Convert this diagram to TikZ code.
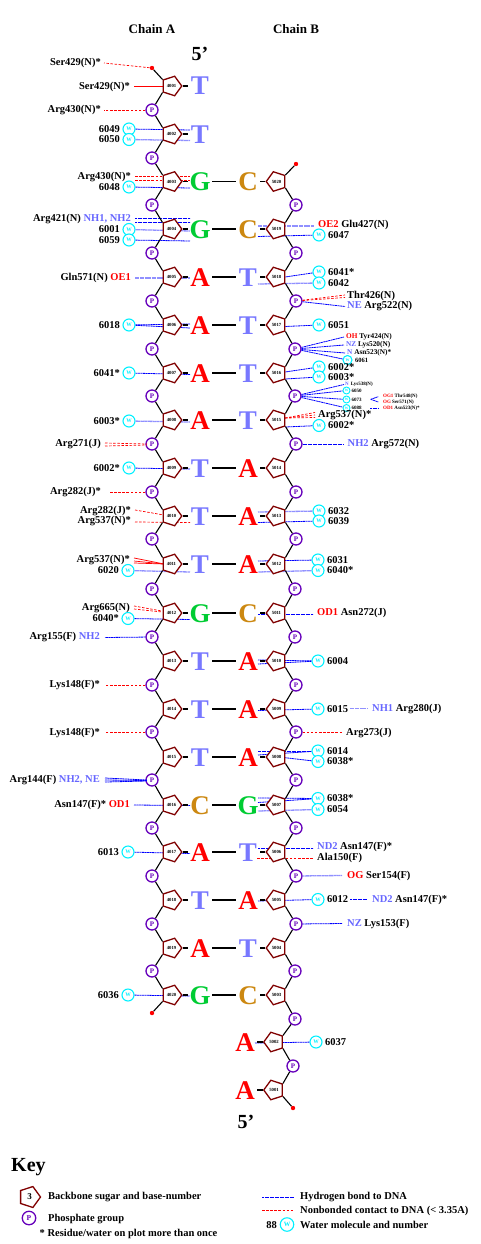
\documentclass[tikz,border=0pt]{standalone}
\usepackage{fontspec}
\setmainfont{Liberation Serif}
\usetikzlibrary{shapes.geometric}
\definecolor{sugarc}{HTML}{800000}
\definecolor{phos}{HTML}{6600BB}
\definecolor{watc}{HTML}{00F0FF}
\definecolor{atomb}{HTML}{6666FF}
\definecolor{colA}{HTML}{FF0000}
\definecolor{colT}{HTML}{7878FF}
\definecolor{colG}{HTML}{00CC33}
\definecolor{colC}{HTML}{CC8811}
\definecolor{hbc}{HTML}{0000FF}
\definecolor{hbp}{HTML}{9090FF}
\newcommand{\fsz}[1]{\fontsize{#1}{#1}\selectfont\bfseries}
\newcommand{\atb}[1]{\textcolor{atomb}{#1}}
\newcommand{\ato}[1]{\textcolor{red}{#1}}
\newcount\cnn
\newcommand{\conn}[4]{\global\advance\cnn by 1\relax
  \coordinate (c\the\cnn) at (#3,#4); \draw[#1] #2 -- (c\the\cnn);}
\newcommand{\seg}[5]{\global\advance\cnn by 1\relax
  \coordinate (c\the\cnn a) at (#2,#3); \coordinate (c\the\cnn b) at (#4,#5);
  \draw[#1] (c\the\cnn a) -- (c\the\cnn b);}
\newcommand{\wlt}[4]{\node[wat] (w#1) at (#2,#3) {W};
  \node[lbl,anchor=east] (l#1) at ([xshift=-9pt]w#1.center) {#4};}
\newcommand{\wrt}[4]{\node[wat] (w#1) at (#2,#3) {W};
  \node[lbl,anchor=west] (l#1) at ([xshift=9pt]w#1.center) {#4};}
\newcommand{\wsm}[4]{\node[swat] (w#1) at (#2,#3) {W};
  \node[slbl,anchor=west] (l#1) at ([xshift=5pt]w#1.center) {#4};}
\newcommand{\tlab}[5]{\node[#1] (l#2) at (#3,#4) {#5};}
\tikzset{
  lbl/.style={font=\fsz{10.5},inner sep=0pt},
  mlbl/.style={font=\fsz{7.3},inner sep=0pt},
  slbl/.style={font=\fsz{5},inner sep=0pt},
  E/.style={lbl,anchor=east},
  W/.style={lbl,anchor=west},
  wat/.style={circle,draw=watc,line width=1.1pt,fill=white,text=watc,minimum size=12pt,inner sep=0pt,font=\fontsize{5.5}{5.5}\selectfont\bfseries},
  swat/.style={circle,draw=watc,line width=.9pt,fill=white,text=watc,minimum size=7pt,inner sep=0pt,font=\fontsize{3.5}{3.5}\selectfont\bfseries},
  ph/.style={circle,draw=phos,line width=1.3pt,fill=white,text=phos,minimum size=12pt,inner sep=0pt,font=\fsz{7}},
  sugA/.style={regular polygon,regular polygon sides=5,shape border rotate=-90,draw=sugarc,line width=1.3pt,fill=white,minimum size=20.5pt,inner sep=0pt,font=\fsz{4.7}},
  sugB/.style={regular polygon,regular polygon sides=5,shape border rotate=90,draw=sugarc,line width=1.3pt,fill=white,minimum size=20.5pt,inner sep=0pt,font=\fsz{4.7}},
  basel/.style={inner sep=0pt,minimum width=24pt,text height=18pt,text depth=0pt,font=\fsz{27}},
  dot/.style={circle,fill=red,minimum size=4.4pt,inner sep=0pt},
  bb/.style={black,line width=1.1pt},
  hb/.style={hbc,line width=.8pt,dash pattern=on 2pt off .5pt},
  hbl/.style={hbp,line width=1.3pt,dash pattern=on 2pt off .4pt},
  nbc/.style={red,line width=.7pt,dash pattern=on 2.5pt off 1.6pt},
  nbs/.style={red,line width=.7pt},
  pair/.style={black,line width=1.6pt},
  stub/.style={black,line width=1.1pt},
}
\begin{document}
\begin{tikzpicture}[x=1pt,y=-1pt]
\useasboundingbox (0,0) rectangle (481,1244);
% titles
\node[font=\fsz{13},inner sep=0pt] (ta) at (152,29) {Chain A};
\node[font=\fsz{13},inner sep=0pt] (tb) at (296,29) {Chain B};
\node[font=\fsz{20},inner sep=0pt] (f5a) at (200,54) {5’};
\node[font=\fsz{20},inner sep=0pt] (f5b) at (246,1122) {5’};
% phosphates
\foreach \i/\y in {1/110,2/158,3/205,4/253,5/301,6/349,7/396,8/444,9/492,10/539,11/589,12/637,13/685,14/732,15/780,16/828,17/876,18/924,19/971}
  \node[ph] (p\i) at (152,\y) {P};
\foreach \i/\x/\y in {1/293/1066,2/295/1019,3/295/971,4/296/924,5/296/876,6/296/828,7/296/780,8/296/732,9/296/685,10/295/637,11/295/589,12/296/539,13/296/492,14/296/444,15/295/396,16/295/349,17/296/301,18/296/253,19/296/205}
  \node[ph] (q\i) at (\x,\y) {P};
\node[dot] (d1) at (152,68) {};
\node[dot] (d2) at (152,1013) {};
\node[dot] (d3) at (296,164) {};
\node[dot] (d4) at (293,1108) {};
% ---- chain A contacts
\tlab{E}{a1}{101}{63}{Ser429(N)*}\conn{nbc}{(d1)}{104}{63}
\tlab{E}{a2}{130}{86.5}{Ser429(N)*}\seg{nbs}{134}{86}{164}{86}
\tlab{E}{a3}{101}{110}{Arg430(N)*}\conn{nbc}{(p1)}{104}{110}
\wlt{49}{129}{129}{6049}\conn{hb}{(w49)}{190}{130}
\wlt{50}{129}{139.5}{6050}\conn{hbl}{(w50)}{190}{140.5}
\tlab{E}{a4}{131}{177}{Arg430(N)*}\seg{nbc}{135}{176}{190}{176}\seg{nbc}{135}{180}{190}{180}
\wlt{48}{129}{187}{6048}\conn{hb}{(w48)}{190}{188}
\tlab{E}{a5}{131}{219.5}{Arg421(N) \atb{NH1, NH2}}\seg{hb}{135}{218}{190}{218}\seg{hb}{135}{222}{190}{222}
\wlt{01}{129}{229.5}{6001}\conn{hbl}{(w01)}{190}{231}
\wlt{59}{129}{240}{6059}\conn{hb}{(w59)}{190}{241}
\tlab{E}{a6}{131}{277.5}{Gln571(N) \ato{OE1}}\seg{hbl}{135}{278}{190}{278}
\wlt{18}{129}{325}{6018}\conn{hb}{(w18)}{190}{324}\conn{hb}{(w18)}{190}{328}
\wlt{41}{129}{373}{6041*}\conn{hb}{(w41)}{190}{374.5}
\wlt{03}{129}{421}{6003*}\conn{hbl}{(w03)}{190}{422}
\tlab{E}{a7}{101}{444.5}{Arg271(J)}\seg{nbc}{105}{443}{147}{444}\seg{nbc}{105}{446}{147}{445}
\wlt{02}{129}{468}{6002*}\conn{hb}{(w02)}{190}{469}
\tlab{E}{a8}{101}{492}{Arg282(J)*}\conn{nbc}{(p9)}{109}{492}
\tlab{E}{a9}{131}{511}{Arg282(J)*}\seg{nbc}{135}{510}{164}{515}
\tlab{E}{a10}{131}{521}{Arg537(N)*}\seg{nbc}{135}{522}{190}{522.5}
\tlab{E}{a11}{130}{560.5}{Arg537(N)*}\seg{nbs}{134}{558}{164}{564}\seg{nbs}{134}{561}{164}{564}\seg{nbs}{134}{563}{164}{564}
\wlt{20}{128}{570.5}{6020}\conn{hbl}{(w20)}{190}{572}
\tlab{E}{a12}{130}{608}{Arg665(N)}\seg{nbc}{134}{606}{162}{611}\seg{nbc}{134}{609}{162}{612}
\wlt{40}{128}{618.5}{6040*}\conn{hb}{(w40)}{190}{619.5}
\tlab{E}{a13}{100}{637.5}{Arg155(F) \atb{NH2}}\conn{hb}{(p12)}{105}{637.5}
\tlab{E}{a14}{100}{684.5}{Lys148(F)*}\conn{nbc}{(p13)}{105}{685}
\tlab{E}{a15}{100}{733}{Lys148(F)*}\conn{nbc}{(p14)}{105}{732}
\tlab{E}{a16}{100}{780.5}{Arg144(F) \atb{NH2, NE}}\seg{hb}{105}{778}{147}{780}\seg{hb}{105}{780}{147}{780.5}\seg{hb}{105}{782}{147}{781}
\tlab{E}{a17}{130}{805}{Asn147(F)* \ato{OD1}}\seg{hb}{134}{805}{190}{805.5}
\wlt{13}{128}{852}{6013}\conn{hb}{(w13)}{190}{853.5}
\wlt{36}{128}{995}{6036}\conn{hb}{(w36)}{190}{996}
% ---- chain B contacts
\tlab{W}{b1}{318}{224.5}{\ato{OE2} Glu427(N)}\seg{hbl}{258}{226}{314}{226}
\wrt{47}{319}{235}{6047}\conn{hb}{(w47)}{258}{236.5}
\wrt{41b}{319}{272}{6041*}\conn{hb}{(w41b)}{285}{277}
\wrt{42}{319}{283}{6042}\conn{hbl}{(w42)}{258}{284}
\tlab{W}{b2}{347}{296}{Thr426(N)}\conn{nbc}{(q17)}{345}{295}\conn{nbc}{(q17)}{345}{297.5}
\tlab{W}{b3}{347}{306.5}{\atb{NE} Arg522(N)}\conn{hb}{(q17)}{345}{306.5}
\wrt{51}{319}{325}{6051}\conn{hb}{(w51)}{285}{326.5}
\tlab{mlbl,anchor=west}{b4}{346}{337}{\ato{OH} Tyr424(N)}\conn{hb}{(q16)}{344}{337}
\tlab{mlbl,anchor=west}{b5}{346}{345}{\atb{NZ} Lys520(N)}\conn{hb}{(q16)}{344}{345}
\tlab{mlbl,anchor=west}{b6}{347}{352.5}{\atb{N} Asn523(N)*}\conn{hb}{(q16)}{345}{353}
\node[wat,minimum size=9pt,font=\fontsize{4}{4}\selectfont\bfseries] (w61) at (347.5,360) {W};
\node[mlbl,font=\fsz{6.5},anchor=west] (l61) at (355,360.5) {6061};
\draw[hb] (q16) -- (w61);
\wrt{02b}{319}{367}{6002*}\conn{hb}{(w02b)}{285}{372}
\wrt{03b}{319}{377}{6003*}\conn{hb}{(w03b)}{285}{379}
\tlab{slbl,anchor=west}{b7}{345}{384.5}{\atb{N}\hspace{2pt}Lys538(N)}\conn{hb}{(q15)}{344}{384.5}
\wsm{50b}{346.5}{390.5}{6050}\draw[hb] (q15) -- (w50b);
\wsm{73}{346.5}{399.5}{6073}\draw[hb] (q15) -- (w73);
\wsm{88}{346.5}{408}{6088}\draw[hb] (q15) -- (w88);
\tlab{slbl,anchor=west}{b8}{383}{396.5}{\ato{OG1} Thr548(N)}
\tlab{slbl,anchor=west}{b9}{383}{402.5}{\ato{OG} Ser571(N)}
\tlab{slbl,anchor=west}{b10}{383}{408.5}{\ato{OD1} Asn523(N)*}
\seg{hb}{370.7}{399.3}{378.3}{396.7}\seg{hb}{370.7}{399.3}{378.3}{402}\seg{hb}{370}{408.3}{378}{408.3}
\tlab{W}{b11}{318}{415}{Arg537(N)*}\seg{nbc}{285}{418}{315}{412.5}\seg{nbc}{285}{418}{315}{415}\seg{nbc}{285}{418}{315}{417.5}
\wrt{02c}{319}{425.5}{6002*}\conn{hb}{(w02c)}{285}{427}
\tlab{W}{b12}{347.5}{444}{\atb{NH2} Arg572(N)}\conn{hb}{(q14)}{344}{444}
\wrt{32}{319}{511}{6032}\conn{hbl}{(w32)}{258}{512}
\wrt{39}{319}{521}{6039}\conn{hb}{(w39)}{258}{522.5}
\wrt{31}{318}{560}{6031}\conn{hb}{(w31)}{258}{561}
\wrt{40b}{318}{570.5}{6040*}\conn{hbl}{(w40b)}{258}{572}
\tlab{W}{b13}{317}{613}{\ato{OD1} Asn272(J)}\seg{hb}{258}{614}{313}{614}
\wrt{04}{318}{661}{6004}\conn{hb}{(w04)}{258}{660}\conn{hb}{(w04)}{258}{664}
\wrt{15}{318}{709}{6015}\conn{hb}{(w15)}{258}{710.5}
\tlab{W}{b14}{372}{709}{\atb{NH1} Arg280(J)}\seg{hbl}{350}{708.5}{367}{708.5}
\tlab{W}{b15}{346}{733}{Arg273(J)}\conn{nbc}{(q8)}{343}{732}
\wrt{14}{318}{751}{6014}\conn{hb}{(w14)}{258}{751}\conn{hb}{(w14)}{258}{755}
\wrt{38}{318}{761.5}{6038*}\conn{hb}{(w38)}{285}{757.7}
\wrt{38b}{318}{798.5}{6038*}\conn{hb}{(w38b)}{258}{798}\conn{hb}{(w38b)}{258}{802.5}
\wrt{54}{318}{809.5}{6054}\conn{hbl}{(w54)}{258}{811}
\tlab{W}{b16}{317}{846.5}{\atb{ND2} Asn147(F)*}\seg{hb}{258}{848.5}{313}{848.5}
\tlab{W}{b17}{317}{857.5}{Ala150(F)}\seg{nbc}{257}{858.5}{313}{858.5}
\tlab{W}{b18}{347}{876}{\ato{OG} Ser154(F)}\conn{hbl}{(q5)}{342}{875.5}
\wrt{12}{318}{899.5}{6012}\conn{hb}{(w12)}{258}{901}
\tlab{W}{b19}{372}{899.5}{\atb{ND2} Asn147(F)*}\seg{hb}{350}{899.5}{367}{899.5}
\tlab{W}{b20}{347}{923.5}{\atb{NZ} Lys153(F)}\conn{hb}{(q4)}{342}{923.5}
\wrt{37}{316}{1042}{6037}\conn{hb}{(w37)}{255}{1043}
% ---- sugars
\foreach \i/\y in {1/86,2/134,3/181.5,4/229,5/277,6/325,7/373,8/420,9/468,10/516,11/564,12/613,13/661,14/709,15/757,16/805,17/852,18/900,19/948,20/995}{
  \pgfmathtruncatemacro{\slab}{4000+\i}
  \node[sugA] (s\i) at (171.5,\y) {\slab};
}
\foreach \i/\x/\y in {1/274/1090,2/274/1042,3/276.5/995,4/276.5/948,5/276.5/900,6/276.5/852,7/276.5/805,8/276.5/757,9/276.5/709,10/276.5/661,11/276.5/613,12/276.5/564,13/276.5/516,14/276.5/468,15/276.5/420,16/276.5/373,17/276.5/325,18/276.5/277,19/276.5/229,20/276.5/181.5}{
  \pgfmathtruncatemacro{\slab}{5000+\i}
  \node[sugB] (t\i) at (\x,\y) {\slab};
}
% ---- backbone
\draw[bb] (d1) -- (s1.corner 3);
\draw[bb] (d2) -- (s20.corner 4);
\draw[bb] (d3) -- (t20.corner 4);
\draw[bb] (d4) -- (t1.corner 3);
\foreach \i [evaluate=\i as \j using int(\i+1)] in {1,...,19}{
  \draw[bb] (s\i.corner 4) -- (p\i);
  \draw[bb] (p\i) -- (s\j.corner 3);
  \draw[bb] (t\i.corner 4) -- (q\i);
  \draw[bb] (q\i) -- (t\j.corner 3);
}
% ---- bases chain A
\foreach \i/\y/\l in {1/86/T,2/134/T,3/181.5/G,4/229/G,5/277/A,6/325/A,7/373/A,8/420/A,9/468/T,10/516/T,11/564/T,12/613/G,13/661/T,14/709/T,15/757/T,16/805/C,17/852/A,18/900/T,19/948/A,20/995/G}{
  \node[basel,text=col\l] (ba\i) at (200,\y) {\l};
  \draw[stub] (s\i.corner 1) -- (ba\i.west);
}
% ---- bases chain B
\foreach \i/\x/\y/\l in {1/245/1090/A,2/245/1042/A,3/248/995/C,4/248/948/T,5/248/900/A,6/248/852/T,7/248/805/G,8/248/757/A,9/248/709/A,10/248/661/A,11/248/613/C,12/248/564/A,13/248/516/A,14/248/468/A,15/248/420/T,16/248/373/T,17/248/325/T,18/248/277/T,19/248/229/C,20/248/181.5/C}{
  \node[basel,text=col\l] (bb\i) at (\x,\y) {\l};
  \draw[stub] (t\i.corner 1) -- (bb\i.east);
}
% ---- base pairs (A row r pairs with B number 23-r)
\foreach \r [evaluate=\r as \k using int(23-\r)] in {3,...,20}
  \draw[pair] (ba\r.east) -- (bb\k.west);
% ---- key
\node[font=\fsz{20},inner sep=0pt,anchor=west] (keyt) at (11,1167) {Key};
\node[sugA,minimum size=22pt,font=\fsz{9}] (ks) at (29.5,1197) {3};
\node[W] (k1) at (48,1197.5) {Backbone sugar and base-number};
\node[ph,minimum size=13.5pt,font=\fsz{7.5}] (kp) at (29,1218) {P};
\node[W] (k2) at (48,1218.5) {Phosphate group};
\node[W] (k3) at (39.5,1234) {* Residue/water on plot more than once};
\coordinate (kh1) at (262,1197.5); \coordinate (kh2) at (294,1197.5);
\draw[hb] (kh1) -- (kh2);
\node[W] (k4) at (300,1197.5) {Hydrogen bond to DNA};
\coordinate (kn1) at (262,1210.5); \coordinate (kn2) at (294,1210.5);
\draw[nbc] (kn1) -- (kn2);
\node[W] (k5) at (300,1211) {Nonbonded contact to DNA (< 3.35A)};
\node[wat,minimum size=13.5pt,font=\fsz{6.5}] (kw) at (287,1224.5) {W};
\node[E] (k6) at (277,1225) {88};
\node[W] (k7) at (300,1224.5) {Water molecule and number};
\end{tikzpicture}
\end{document}
